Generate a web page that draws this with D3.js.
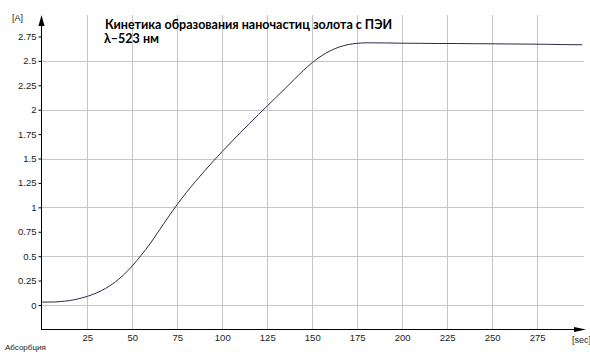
<!DOCTYPE html>
<html><head><meta charset="utf-8">
<script src="https://cdn.jsdelivr.net/npm/d3@7"></script>
<style>body{margin:0;background:#fff}svg{display:block}</style>
</head><body>
<svg id="c" width="590" height="352"></svg>
<script>
const times = [0,5,10,15,20,25,30,35,40,45,50,55,60,65,70,75,80,85,90,95,100,105,110,115,120,125,130,135,140,145,150,155,160,165,170,175,180,190,200,210,220,230,240,250,260,270,280,290,300];
const absorb = [0.03,0.03,0.035,0.045,0.063,0.088,0.122,0.168,0.228,0.305,0.40,0.51,0.63,0.765,0.90,1.03,1.15,1.262,1.37,1.472,1.572,1.668,1.763,1.857,1.948,2.038,2.128,2.218,2.31,2.40,2.482,2.55,2.603,2.642,2.667,2.68,2.685,2.684,2.681,2.68,2.678,2.678,2.676,2.675,2.673,2.672,2.67,2.667,2.665];
const xTicks = [25,50,75,100,125,150,175,200,225,250,275];
const yTicks = [0,0.25,0.5,0.75,1,1.25,1.5,1.75,2,2.25,2.5,2.75];
const yGrid = [0,0.5,1,1.5,2,2.5];
const titleLines = ["Кинетика образования наночастиц золота с ПЭИ","λ–523 нм"];

const svg = d3.select("#c");
const x = d3.scaleLinear().domain([-0.7, 301]).range([41, 584]);
const y = d3.scaleLinear().domain([-0.246, 2.97]).range([329, 15]);
const font = "'Liberation Sans', Arial, sans-serif";

// grid
svg.append("g").selectAll("line").data(xTicks).join("line")
  .attr("x1", d=>Math.round(x(d))+0.5).attr("x2", d=>Math.round(x(d))+0.5)
  .attr("y1", 15).attr("y2", 329).attr("stroke", "#c6c6c6");
svg.append("g").selectAll("line").data(yGrid).join("line")
  .attr("y1", d=>Math.round(y(d))+0.5).attr("y2", d=>Math.round(y(d))+0.5)
  .attr("x1", 41).attr("x2", 584).attr("stroke", "#c6c6c6");

// y axis
const ya = d3.axisLeft(y).tickValues(yTicks).tickSize(3).tickFormat(d3.format("~g"));
const gy = svg.append("g").attr("transform","translate(41.5,0)").call(ya);
gy.select(".domain").remove();
gy.selectAll("text").attr("font-family", font).attr("font-size", 9.5).attr("fill","#222").attr("x",-5);
gy.selectAll("line").attr("stroke","#000");
// x axis
const xa = d3.axisBottom(x).tickValues(xTicks).tickSize(0).tickPadding(5);
const gx = svg.append("g").attr("transform","translate(0,329.5)").call(xa);
gx.select(".domain").remove();
gx.selectAll("text").attr("font-family", font).attr("font-size", 9.5).attr("fill","#222");

svg.append("line").attr("x1",41.5).attr("x2",41.5).attr("y1",17).attr("y2",329.5).attr("stroke","#000");
svg.append("line").attr("x1",41).attr("x2",580).attr("y1",329.5).attr("y2",329.5).attr("stroke","#000");
svg.append("path").attr("d","M41.5,15 L38.5,26 L44.5,26 Z").attr("fill","#000");
svg.append("path").attr("d","M586,329.5 L574,327 L574,332 Z").attr("fill","#000");

// curve
const line = d3.line().x((d,i)=>x(times[i])).y(d=>y(d)).curve(d3.curveMonotoneX);
svg.append("path").datum(absorb).attr("d", line).attr("fill","none")
  .attr("stroke","#2b2b45").attr("stroke-width",1);

// labels
svg.append("text").attr("x",12).attr("y",21).attr("font-family",font).attr("font-size",9).attr("fill","#222").text("[A]");
svg.append("text").attr("x",572).attr("y",343).attr("font-family",font).attr("font-size",9).attr("fill","#222").text("[sec]");
svg.append("text").attr("x",5).attr("y",350).attr("font-family",font).attr("font-size",8).attr("fill","#222").text("Абсорбция");

svg.append("text").attr("x",105).attr("y",29).attr("font-family","Lato, 'Open Sans', sans-serif").attr("font-weight","bold")
  .attr("font-size",12.5).attr("fill","#000").text(titleLines[0]);
svg.append("text").attr("x",104).attr("y",43).attr("font-family","Lato, 'Open Sans', sans-serif").attr("font-weight","bold")
  .attr("font-size",12.5).attr("fill","#000").text(titleLines[1]);
</script>
</body></html>
